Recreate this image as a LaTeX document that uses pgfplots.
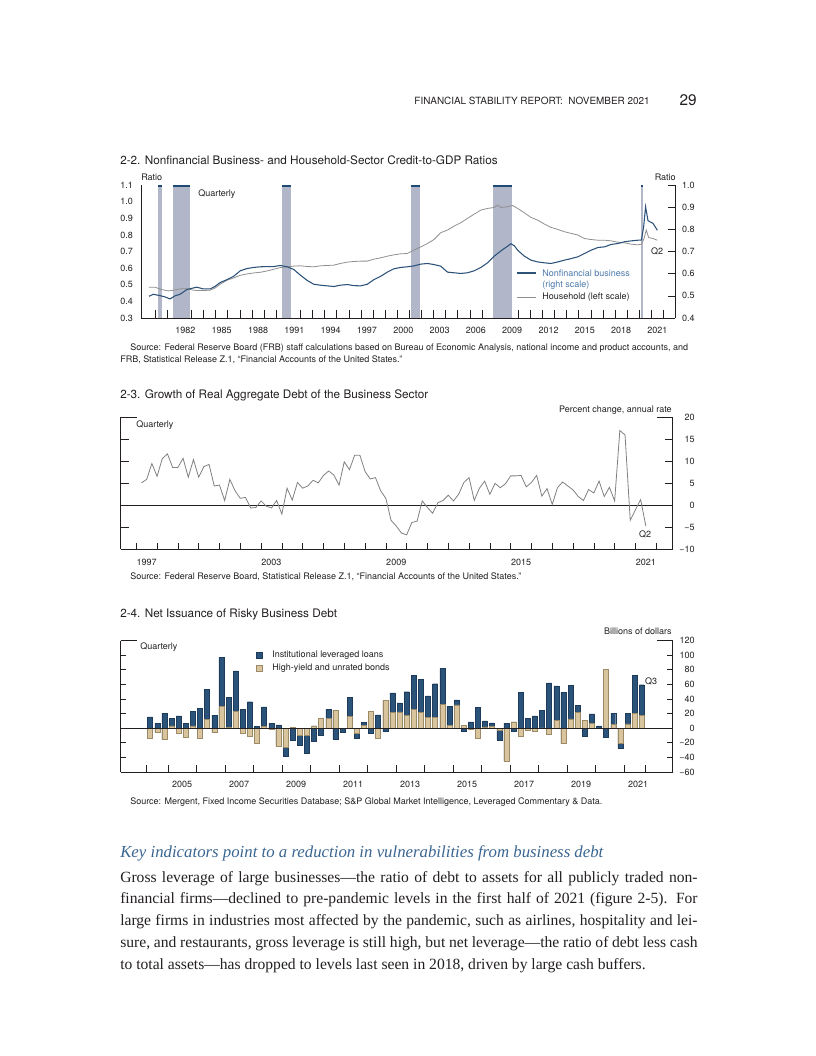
\documentclass[border=0pt]{standalone}
\usepackage{fontspec}
\setmainfont{TeX Gyre Heros}
\newfontfamily\serif{Liberation Serif}
\usepackage{pgfplots}
\usepackage{pgfplotstable}
\pgfplotsset{compat=1.18}

\definecolor{bizblue}{HTML}{2C527A}
\definecolor{legblue}{HTML}{4A78A8}
\definecolor{hhgray}{HTML}{8F8F8F}
\definecolor{linegray}{HTML}{808080}
\definecolor{recfill}{HTML}{B1B7C9}
\definecolor{reccap}{HTML}{1F4A73}
\definecolor{loanblue}{HTML}{2B5279}
\definecolor{loanedge}{HTML}{1D3B5A}
\definecolor{bondtan}{HTML}{D8C59E}
\definecolor{bondedge}{HTML}{9C8A66}
\definecolor{headblue}{HTML}{3A6591}
\definecolor{txt}{HTML}{231F20}

\pgfplotstableread{
t v
1979.49 0.485
1979.99 0.485
1980.54 0.471
1981.09 0.463
1981.51 0.467
1982.06 0.475
1982.61 0.477
1983.16 0.467
1983.72 0.465
1984.54 0.467
1984.96 0.481
1985.37 0.503
1985.93 0.527
1986.48 0.541
1987.03 0.557
1987.58 0.565
1988.13 0.571
1988.69 0.575
1989.24 0.583
1989.79 0.593
1990.34 0.603
1990.90 0.608
1991.45 0.612
1992.00 0.614
1992.55 0.610
1993.11 0.608
1993.66 0.614
1994.76 0.618
1995.31 0.628
1995.87 0.636
1996.42 0.640
1996.97 0.642
1997.52 0.642
1998.07 0.654
1998.63 0.662
1999.18 0.672
1999.73 0.680
2000.28 0.686
2000.83 0.688
2001.38 0.708
2001.94 0.728
2002.49 0.748
2003.04 0.772
2003.59 0.813
2004.15 0.829
2004.70 0.853
2005.25 0.873
2005.80 0.899
2006.36 0.925
2006.91 0.949
2007.46 0.959
2008.01 0.965
2008.29 0.979
2008.57 0.965
2009.12 0.969
2009.53 0.977
2009.95 0.959
2010.50 0.933
2011.05 0.905
2011.60 0.889
2012.16 0.865
2012.71 0.845
2013.26 0.833
2013.81 0.819
2014.37 0.809
2014.92 0.799
2015.47 0.778
2016.02 0.772
2016.58 0.768
2017.13 0.768
2017.68 0.764
2018.23 0.756
2018.79 0.752
2019.34 0.744
2019.89 0.740
2020.17 0.744
2020.39 0.778
2020.58 0.829
2020.77 0.784
2021.13 0.778
2021.49 0.768
}\household

\pgfplotstableread{
t v
1979.49 0.498
1979.85 0.507
1980.40 0.501
1980.82 0.495
1981.23 0.486
1981.64 0.500
1982.06 0.507
1982.61 0.528
1983.03 0.534
1983.44 0.539
1983.99 0.531
1984.54 0.531
1984.96 0.543
1985.37 0.560
1985.93 0.573
1986.48 0.588
1987.03 0.613
1987.58 0.623
1988.13 0.628
1988.69 0.631
1989.24 0.632
1989.79 0.632
1990.34 0.637
1990.90 0.631
1991.45 0.619
1992.00 0.593
1992.55 0.570
1993.11 0.552
1993.66 0.548
1994.21 0.545
1994.76 0.542
1995.31 0.548
1995.87 0.551
1996.42 0.546
1996.97 0.545
1997.52 0.552
1998.07 0.573
1998.63 0.588
1999.18 0.607
1999.73 0.622
2000.28 0.628
2000.83 0.631
2001.38 0.635
2001.94 0.643
2002.49 0.646
2003.04 0.641
2003.59 0.634
2004.15 0.607
2004.70 0.604
2005.25 0.601
2005.80 0.604
2006.36 0.613
2006.91 0.628
2007.46 0.649
2008.01 0.679
2008.57 0.703
2009.12 0.724
2009.39 0.735
2009.67 0.726
2009.95 0.706
2010.50 0.679
2011.05 0.661
2011.60 0.653
2012.16 0.649
2012.71 0.646
2013.26 0.653
2013.81 0.661
2014.37 0.668
2014.92 0.676
2015.47 0.691
2016.02 0.706
2016.58 0.718
2017.13 0.721
2017.68 0.732
2018.23 0.736
2018.79 0.744
2019.34 0.748
2019.89 0.751
2020.17 0.751
2020.36 0.812
2020.52 0.902
2020.72 0.839
2021.13 0.827
2021.49 0.796
}\business

\pgfplotstableread{
t g
1997.25 5.1
1997.50 5.9
1997.75 9.5
1998.00 6.6
1998.25 10.6
1998.50 11.7
1998.75 8.6
1999.00 8.6
1999.25 10.7
1999.50 6.4
1999.75 10.4
2000.00 6.4
2000.25 8.8
2000.50 9.3
2000.75 4.4
2001.00 4.6
2001.25 1.1
2001.50 5.9
2001.75 3.3
2002.00 1.6
2002.25 1.8
2002.50 -0.6
2002.75 -0.5
2003.00 1.0
2003.25 -0.2
2003.50 -0.6
2003.75 1.1
2004.00 -2.0
2004.25 3.9
2004.50 1.2
2004.75 5.2
2005.00 3.9
2005.25 4.4
2005.50 5.7
2005.75 5.1
2006.00 6.8
2006.25 7.8
2006.50 6.9
2006.75 4.6
2007.00 9.9
2007.25 8.1
2007.50 11.4
2007.75 11.4
2008.00 7.7
2008.25 6.0
2008.50 6.3
2008.75 3.3
2009.00 1.6
2009.25 -3.4
2009.50 -4.7
2009.75 -6.3
2010.00 -6.7
2010.25 -3.9
2010.50 -3.6
2010.75 1.0
2011.00 -0.5
2011.25 -1.8
2011.50 0.6
2011.75 1.1
2012.00 2.3
2012.25 1.0
2012.50 2.5
2012.75 5.2
2013.00 6.3
2013.25 1.1
2013.50 3.9
2013.75 5.5
2014.00 2.5
2014.25 5.0
2014.50 4.0
2014.75 4.9
2015.00 6.7
2015.25 6.7
2015.50 6.8
2015.75 4.2
2016.00 5.2
2016.25 6.8
2016.50 2.1
2016.75 3.8
2017.00 0.2
2017.25 4.0
2017.50 5.3
2017.75 4.4
2018.00 3.5
2018.25 2.0
2018.50 1.1
2018.75 3.6
2019.00 2.8
2019.25 5.5
2019.50 2.0
2019.75 4.1
2020.00 1.0
2020.25 17.0
2020.50 16.0
2020.75 -3.4
2021.00 -1.0
2021.25 1.3
2021.50 -4.7
}\growth

\pgfplotstableread{
t bonds loans
2004.375 -13.7 15.6
2004.625 -5.5 6.4
2004.875 -15.6 20.6
2005.125 3.2 10.1
2005.375 -6.9 16.9
2005.625 -12.8 6.9
2005.875 3.2 20.1
2006.125 -13.7 27.5
2006.375 12.4 40.7
2006.625 -6.0 17.9
2006.875 29.8 67.2
2007.125 1.4 41.2
2007.375 22.9 55.4
2007.625 -7.3 25.6
2007.875 -10.5 36.2
2008.125 -20.6 2.7
2008.375 2.7 26.6
2008.625 -1.5 6.9
2008.875 -24.3 4.6
2009.125 -26.0 -12.8
2009.375 1.0 -16.0
2009.625 -9.6 -13.7
2009.875 -9.6 -25.2
2010.125 3.2 -18.3
2010.375 13.3 -9.6
2010.625 13.3 12.8
2010.875 24.7 -15.1
2011.125 0.0 -6.0
2011.375 16.5 25.6
2011.625 -7.3 -6.4
2011.875 4.1 3.7
2012.125 23.3 -6.9
2012.375 -13.3 18.3
2012.625 38.4 -4.6
2012.875 21.5 27.0
2013.125 22.4 12.4
2013.375 17.9 32.0
2013.625 25.6 46.3
2013.875 22.0 44.8
2014.125 14.6 29.8
2014.375 15.1 45.8
2014.625 32.5 49.0
2014.875 3.7 26.5
2015.125 32.0 6.9
2015.375 4.1 -3.7
2015.625 -1.0 8.7
2015.875 -13.7 28.8
2016.125 1.8 8.3
2016.375 2.7 4.6
2016.625 -3.2 -12.8
2016.875 -44.9 6.9
2017.125 8.7 -4.6
2017.375 -11.0 49.0
2017.625 -2.7 13.3
2017.875 -4.1 16.9
2018.125 0.5 23.8
2018.375 -8.7 62.2
2018.625 10.5 47.6
2018.875 -21.1 49.0
2019.125 12.8 45.8
2019.375 21.5 9.6
2019.625 10.5 -11.4
2019.875 6.4 13.3
2020.125 0.0 3.2
2020.375 80.6 -11.9
2020.625 5.5 14.6
2020.875 -21.1 -6.9
2021.125 6.0 14.1
2021.375 20.6 52.2
2021.625 17.4 42.1
}\issuance

\newcommand{\ttl}{\fontsize{8.8}{10}\selectfont}
\newcommand{\sml}{\fontsize{6.75}{8}\selectfont}

\pgfplotsset{
  fsr/.style={scale only axis, tick align=inside,
    axis line style={-, line width=0.5pt, txt},
    tick style={txt, line width=0.45pt},
    tick label style={font=\sml, text=txt, inner sep=0pt},
    xticklabel style={anchor=north, yshift=-6.8pt}},
}

\begin{document}
\begin{tikzpicture}
\useasboundingbox (0,0) rectangle (612pt,-792pt);

% ---------------- Figure 2-2 ----------------
\begin{axis}[fsr, at={(105.75pt,-238.5pt)}, anchor=south west,
  width=400.5pt, height=99.75pt,
  xmin=1978.83, xmax=2022.95, ymin=0.3, ymax=1.1,
  axis x line*=bottom, axis y line*=left,
  xtick={1982.5,1985.5,1988.5,1991.5,1994.5,1997.5,2000.5,2003.5,2006.5,2009.5,2012.5,2015.5,2018.5,2021.5},
  xticklabels={1982,1985,1988,1991,1994,1997,2000,2003,2006,2009,2012,2015,2018,2021},
  major x tick style={draw=none},
  minor xtick={1980,1981,...,2022},
  minor tick length=6pt,
  ytick={0.3,0.4,0.5,0.6,0.7,0.8,0.9,1.0,1.1},
  yticklabels={0.3,0.4,0.5,0.6,0.7,0.8,0.9,1.0,1.1},
  major y tick style={draw=none},
  yticklabel style={anchor=west, xshift=-15.75pt},
]
\addplot[fill=recfill, draw=none] coordinates {(1980.26,0.3) (1980.26,1.1) (1980.57,1.1) (1980.57,0.3)} -- cycle;
\addplot[fill=recfill, draw=none] coordinates {(1981.50,0.3) (1981.50,1.1) (1982.89,1.1) (1982.89,0.3)} -- cycle;
\addplot[fill=recfill, draw=none] coordinates {(1990.51,0.3) (1990.51,1.1) (1991.23,1.1) (1991.23,0.3)} -- cycle;
\addplot[fill=recfill, draw=none] coordinates {(2001.17,0.3) (2001.17,1.1) (2001.89,1.1) (2001.89,0.3)} -- cycle;
\addplot[fill=recfill, draw=none] coordinates {(2007.93,0.3) (2007.93,1.1) (2009.48,1.1) (2009.48,0.3)} -- cycle;
\addplot[fill=recfill, draw=none] coordinates {(2020.11,0.3) (2020.11,1.1) (2020.31,1.1) (2020.31,0.3)} -- cycle;
\addplot[fill=reccap, draw=none] coordinates {(1980.26,1.087) (1980.26,1.1) (1980.57,1.1) (1980.57,1.087)} -- cycle;
\addplot[fill=reccap, draw=none] coordinates {(1981.50,1.087) (1981.50,1.1) (1982.89,1.1) (1982.89,1.087)} -- cycle;
\addplot[fill=reccap, draw=none] coordinates {(1990.51,1.087) (1990.51,1.1) (1991.23,1.1) (1991.23,1.087)} -- cycle;
\addplot[fill=reccap, draw=none] coordinates {(2001.17,1.087) (2001.17,1.1) (2001.89,1.1) (2001.89,1.087)} -- cycle;
\addplot[fill=reccap, draw=none] coordinates {(2007.93,1.087) (2007.93,1.1) (2009.48,1.1) (2009.48,1.087)} -- cycle;
\addplot[fill=reccap, draw=none] coordinates {(2020.11,1.087) (2020.11,1.1) (2020.31,1.1) (2020.31,1.087)} -- cycle;
\addplot[hhgray, line width=0.6pt] table[x=t, y=v] {\household};
\end{axis}

\begin{axis}[fsr, at={(105.75pt,-238.5pt)}, anchor=south west,
  width=400.5pt, height=99.75pt,
  xmin=1978.83, xmax=2022.95, ymin=0.4, ymax=1.0,
  axis x line=none, axis y line*=right,
  major tick length=5pt,
  ytick={0.4,0.5,0.6,0.7,0.8,0.9,1.0},
  yticklabels={0.4,0.5,0.6,0.7,0.8,0.9,1.0},
  yticklabel style={anchor=east, xshift=15pt},
]
\addplot[bizblue, line width=0.8pt] table[x=t, y=v] {\business};
\end{axis}

% ---------------- Figure 2-3 ----------------
\begin{axis}[fsr, at={(90.5pt,-412pt)}, anchor=south west,
  width=414pt, height=99pt,
  xmin=1996.25, xmax=2022.79, ymin=-10, ymax=20,
  axis x line*=bottom, axis y line*=left,
  xtick={1997.5,2003.5,2009.5,2015.5,2021.5},
  xticklabels={1997,2003,2009,2015,2021},
  major x tick style={draw=none},
  minor xtick={1997,1998,...,2022},
  minor tick length=5pt,
  major tick length=6pt,
  ytick={-5,5,10,15}, yticklabels={},
  extra y ticks={20}, extra y tick labels={},
  extra y tick style={major tick length=12pt},
]
\addplot[txt, line width=0.5pt] coordinates {(1996.25,0) (2022.79,0)};
\addplot[linegray, line width=0.6pt] table[x=t, y=g] {\growth};
\end{axis}

\begin{axis}[fsr, at={(90.5pt,-412pt)}, anchor=south west,
  width=414pt, height=99pt,
  xmin=1996.25, xmax=2022.79, ymin=-10, ymax=20,
  axis x line=none, axis y line*=right,
  major tick length=6pt,
  ytick={-10,-5,0,5,10,15,20},
  yticklabels={−10,−5,0,5,10,15,20},
  yticklabel style={anchor=east, xshift=16.7pt},
  extra y ticks={20}, extra y tick labels={},
  extra y tick style={major tick length=12pt},
]
\end{axis}

% ---------------- Figure 2-4 ----------------
\begin{axis}[fsr, at={(90.5pt,-579pt)}, anchor=south west,
  width=414pt, height=98.6pt,
  xmin=2003.34, xmax=2022.71, ymin=-60, ymax=120,
  axis x line*=bottom, axis y line*=left,
  xtick={2005.5,2007.5,2009.5,2011.5,2013.5,2015.5,2017.5,2019.5,2021.5},
  xticklabels={2005,2007,2009,2011,2013,2015,2017,2019,2021},
  major x tick style={draw=none},
  minor xtick={2004.25,2005,2006,2007,2008,2009,2010,2011,2012,2013,2014,2015,2016,2017,2018,2019,2020,2021,2021.75},
  minor tick length=5pt,
  major tick length=4pt,
  ytick={-40,-20,20,40,60,80,100}, yticklabels={},
  extra y ticks={120}, extra y tick labels={},
  extra y tick style={major tick length=12pt},
]
\addplot[ybar, bar width=0.175, bar shift=0pt, fill=loanblue, draw=loanedge, line width=0.3pt]
  table[x=t, y expr={max(\thisrow{bonds},0)+max(\thisrow{loans},0)}] {\issuance};
\addplot[ybar, bar width=0.175, bar shift=0pt, fill=bondtan, draw=bondedge, line width=0.3pt]
  table[x=t, y expr={max(\thisrow{bonds},0)}] {\issuance};
\addplot[ybar, bar width=0.175, bar shift=0pt, fill=loanblue, draw=loanedge, line width=0.3pt]
  table[x=t, y expr={min(\thisrow{bonds},0)+min(\thisrow{loans},0)}] {\issuance};
\addplot[ybar, bar width=0.175, bar shift=0pt, fill=bondtan, draw=bondedge, line width=0.3pt]
  table[x=t, y expr={min(\thisrow{bonds},0)}] {\issuance};
\addplot[txt, line width=0.6pt] coordinates {(2003.34,0) (2022.71,0)};
\end{axis}

\begin{axis}[fsr, at={(90.5pt,-579pt)}, anchor=south west,
  width=414pt, height=98.6pt,
  xmin=2003.34, xmax=2022.71, ymin=-60, ymax=120,
  axis x line=none, axis y line*=right,
  major tick length=4pt,
  ytick={-60,-40,-20,0,20,40,60,80,100,120},
  yticklabels={−60,−40,−20,0,20,40,60,80,100,120},
  yticklabel style={anchor=east, xshift=16.7pt},
  extra y ticks={120}, extra y tick labels={},
  extra y tick style={major tick length=12pt},
]
\end{axis}

% ---------------- Text ----------------
\begin{scope}[x=0.75pt, y=-0.75pt, every node/.style={inner sep=0pt, text=txt}]
\node[anchor=east, font=\fontsize{7.45}{9}\selectfont] at (650,101) {FINANCIAL STABILITY REPORT:\ \ NOVEMBER 2021};
\node[anchor=east, font=\fontsize{11.5}{13}\selectfont] at (697,100) {29};

\node[anchor=west, font=\ttl] at (120,160) {2-2. Nonfinancial Business- and Household-Sector Credit-to-GDP Ratios};
\node[anchor=west, font=\sml] at (141,177) {Ratio};
\node[anchor=east, font=\sml] at (676,177) {Ratio};
\node[anchor=west, font=\sml] at (198,194) {Quarterly};
\node[font=\sml] at (657,251) {Q2};
\draw[bizblue, line width=0.8pt] (517,273) -- (536,273);
\node[anchor=west, font=\sml, text=legblue] at (542,273) {Nonfinancial business};
\node[anchor=west, font=\sml, text=legblue] at (542,285) {(right scale)};
\draw[hhgray, line width=0.6pt] (517,297) -- (536,297);
\node[anchor=west, font=\sml] at (542,297) {Household (left scale)};
\node[anchor=west, font=\sml] at (130,348) {Source: Federal Reserve Board (FRB) staff calculations based on Bureau of Economic Analysis, national income and product accounts, and};
\node[anchor=west, font=\sml] at (120,360) {FRB, Statistical Release Z.1, “Financial Accounts of the United States.”};

\node[anchor=west, font=\ttl] at (120,395) {2-3. Growth of Real Aggregate Debt of the Business Sector};
\node[anchor=east, font=\sml] at (672,410) {Percent change, annual rate};
\node[anchor=west, font=\sml] at (136,425) {Quarterly};
\node[font=\sml] at (645,534) {Q2};
\node[anchor=west, font=\sml] at (130,577) {Source: Federal Reserve Board, Statistical Release Z.1, “Financial Accounts of the United States.”};

\node[anchor=west, font=\ttl] at (120,614) {2-4. Net Issuance of Risky Business Debt};
\node[anchor=east, font=\sml] at (672,631) {Billions of dollars};
\node[anchor=west, font=\sml] at (140,647) {Quarterly};
\node[draw=loanedge, fill=loanblue, minimum size=4.4pt, line width=0.4pt] at (259,655) {};
\node[anchor=west, font=\sml] at (272,655) {Institutional leveraged loans};
\node[draw=bondedge, fill=bondtan, minimum size=4.4pt, line width=0.4pt] at (259,668) {};
\node[anchor=west, font=\sml] at (272,668) {High-yield and unrated bonds};
\node[font=\sml] at (651,681) {Q3};
\node[anchor=west, font=\sml] at (130,802) {Source: Mergent, Fixed Income Securities Database; S\&P Global Market Intelligence, Leveraged Commentary \& Data.};

\node[anchor=west, font=\serif\itshape\fontsize{12.6}{14}\selectfont, text=headblue] at (120,853) {Key indicators point to a reduction in vulnerabilities from business debt};
\node[anchor=north west, align=left, font=\serif\fontsize{11.7}{16.3}\selectfont] at (120,871) {%
\makebox[433pt][s]{Gross leverage of large businesses—the ratio of debt to assets for all publicly traded non-}\\
\makebox[433pt][s]{financial firms—declined to pre-pandemic levels in the first half of 2021 (figure 2-5). For}\\
\makebox[433pt][s]{large firms in industries most affected by the pandemic, such as airlines, hospitality and lei-}\\
\makebox[433pt][s]{sure, and restaurants, gross leverage is still high, but net leverage—the ratio of debt less cash}\\
to total assets—has dropped to levels last seen in 2018, driven by large cash buffers.};
\end{scope}
\end{tikzpicture}
\end{document}
